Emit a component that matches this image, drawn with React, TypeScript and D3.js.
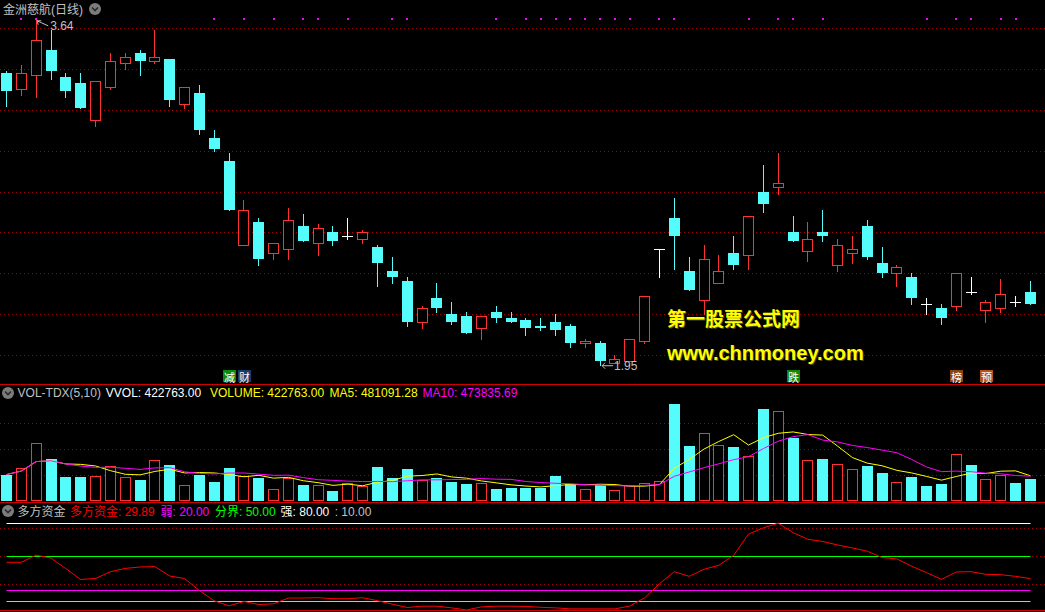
import React from 'react';
import * as d3 from 'd3';

// ---- data ----
const opens = [
  3.38, 3.30, 3.37, 3.49, 3.36, 3.33, 3.15, 3.31, 3.43, 3.48,
  3.44, 3.45, 3.23, 3.28, 3.06, 2.95, 2.54, 2.65, 2.50, 2.52,
  2.63, 2.55, 2.60, 2.58, 2.57, 2.53, 2.41, 2.36, 2.16, 2.28,
  2.20, 2.19, 2.13, 2.21, 2.18, 2.17, 2.14, 2.16, 2.14, 2.06,
  2.06, 1.96, 1.97, 2.07, 2.52, 2.67, 2.41, 2.27, 2.35, 2.50,
  2.49, 2.80, 2.82, 2.60, 2.51, 2.60, 2.44, 2.50, 2.63, 2.45,
  2.40, 2.38, 2.25, 2.23, 2.24, 2.31, 2.22, 2.23, 2.26, 2.31,
];
const closes = [
  3.29, 3.38, 3.54, 3.39, 3.29, 3.21, 3.34, 3.44, 3.46, 3.44,
  3.46, 3.25, 3.31, 3.10, 3.01, 2.71, 2.71, 2.47, 2.55, 2.66,
  2.56, 2.62, 2.56, 2.58, 2.60, 2.45, 2.38, 2.16, 2.23, 2.23,
  2.16, 2.11, 2.19, 2.18, 2.16, 2.13, 2.13, 2.12, 2.06, 2.07,
  1.97, 1.98, 2.08, 2.29, 2.52, 2.58, 2.32, 2.47, 2.41, 2.44,
  2.68, 2.74, 2.84, 2.56, 2.57, 2.58, 2.54, 2.52, 2.48, 2.40,
  2.43, 2.28, 2.25, 2.18, 2.40, 2.31, 2.26, 2.30, 2.26, 2.25,
];
const highs = [
  3.39, 3.42, 3.64, 3.59, 3.38, 3.38, 3.34, 3.48, 3.48, 3.49,
  3.59, 3.45, 3.31, 3.32, 3.10, 2.99, 2.76, 2.67, 2.55, 2.72,
  2.69, 2.64, 2.63, 2.67, 2.61, 2.54, 2.48, 2.38, 2.24, 2.35,
  2.26, 2.21, 2.19, 2.24, 2.21, 2.18, 2.18, 2.20, 2.15, 2.08,
  2.07, 2.00, 2.08, 2.29, 2.52, 2.77, 2.48, 2.54, 2.49, 2.58,
  2.68, 2.93, 2.99, 2.68, 2.65, 2.71, 2.57, 2.58, 2.66, 2.53,
  2.44, 2.40, 2.28, 2.25, 2.40, 2.38, 2.27, 2.37, 2.29, 2.36,
];
const lows = [
  3.22, 3.27, 3.26, 3.35, 3.26, 3.21, 3.12, 3.30, 3.40, 3.37,
  3.43, 3.22, 3.21, 3.08, 3.00, 2.71, 2.54, 2.44, 2.47, 2.47,
  2.56, 2.49, 2.54, 2.57, 2.55, 2.34, 2.35, 2.14, 2.13, 2.21,
  2.15, 2.11, 2.08, 2.16, 2.16, 2.10, 2.12, 2.10, 2.04, 2.04,
  1.95, 1.96, 1.97, 2.06, 2.38, 2.42, 2.32, 2.20, 2.35, 2.42,
  2.42, 2.70, 2.79, 2.56, 2.46, 2.56, 2.41, 2.45, 2.47, 2.38,
  2.34, 2.25, 2.20, 2.15, 2.22, 2.30, 2.16, 2.21, 2.24, 2.25,
];
const volumes = [
  509000, 643000, 1123000, 816000, 470000, 470000, 490000, 672000, 470000, 413000,
  797000, 701000, 317000, 509000, 374000, 643000, 490000, 451000, 240000, 451000,
  317000, 303000, 192000, 355000, 298000, 662000, 451000, 624000, 413000, 451000,
  374000, 336000, 355000, 230000, 259000, 259000, 250000, 480000, 336000, 240000,
  307000, 221000, 307000, 355000, 394000, 1872000, 1066000, 1306000, 1085000, 1046000,
  874000, 1776000, 1728000, 1219000, 797000, 816000, 720000, 624000, 682000, 547000,
  374000, 470000, 288000, 326000, 900000, 701000, 432000, 509000, 355000, 422763,
];
const fundValues = [
  44.5, 44.5, 50.9, 48.2, 38.8, 29.1, 30.0, 36.0, 39.0, 40.3,
  40.6, 32.2, 30.0, 19.1, 10.0, 5.5, 9.4, 6.7, 7.3, 12.5,
  12.5, 12.8, 11.9, 11.9, 12.8, 10.1, 7.0, 4.0, 5.2, 5.2,
  3.7, 1.8, 4.6, 5.2, 5.2, 5.0, 4.2, 3.7, 2.8, 2.8,
  2.8, 2.8, 5.3, 12.7, 25.3, 36.1, 31.9, 38.2, 41.8, 50.8,
  69.7, 75.3, 79.5, 71.0, 65.1, 63.1, 60.0, 57.3, 54.4, 48.7,
  47.5, 40.9, 35.2, 29.2, 35.8, 36.1, 33.7, 33.4, 31.9, 29.89,
];
const signalDots = [1, 2, 14, 16, 18, 20, 21, 23, 26, 27, 33, 35, 36, 37, 38, 39, 40, 41, 42, 44, 45, 50, 52, 53, 55, 62, 64, 65, 67, 68];
const tagIndex = [15, 16, 53, 64, 66];
const tagText = ['减', '财', '跌', '榜', '预'];
const priceTicks = [2.0, 2.2, 2.4, 2.6, 2.8, 3.0, 3.2, 3.4, 3.6];
const volTicks = [500000, 1000000, 1500000];
const fundTicks = [25, 50, 75];
const fundLevels = [80, 50, 20, 10];

const title = '金洲慈航(日线)';
const volHeader = [
  { t: 'VOL-TDX(5,10)', c: '#c0c0c0', x: 17.6 },
  { t: 'VVOL: 422763.00', c: '#ffffff', x: 105.8 },
  { t: 'VOLUME: 422763.00', c: '#ffff00', x: 210 },
  { t: 'MA5: 481091.28', c: '#ffff00', x: 329.6 },
  { t: 'MA10: 473835.69', c: '#ff00ff', x: 422.6 },
];
const fundHeader = [
  { t: '多方资金', c: '#c0c0c0', x: 17.6 },
  { t: '多方资金: 29.89', c: '#ff0000', x: 70 },
  { t: '弱: 20.00', c: '#ff00ff', x: 160.6 },
  { t: '分界: 50.00', c: '#00ff00', x: 215 },
  { t: '强: 80.00', c: '#ffffff', x: 280.6 },
  { t: ': 10.00', c: '#c0c0c0', x: 334.7 },
];

const CYAN = '#54fcfc';
const RED = '#ff3232';
const GRID = '#a00000';
const SEP = '#d00000';
const FONT = '"Liberation Sans", Arial, "Noto Sans CJK SC", sans-serif';
const tagColor: Record<string, string> = { '减': '#0a8a0a', '财': '#173c6a', '跌': '#0a8a0a', '榜': '#8a4414', '预': '#b8501a' };
const levelColor: Record<number, string> = { 80: '#ffffff', 50: '#00ff00', 20: '#ff00ff', 10: '#c0c0c0' };

function Icon({ cx, cy }: { cx: number; cy: number }) {
  return (
    <g>
      <circle cx={cx} cy={cy} r={6} fill="#7c7c7c" />
      <polyline points={`${cx - 3},${cy - 1.5} ${cx},${cy + 1.5} ${cx + 3},${cy - 1.5}`} fill="none" stroke="#2a2a2a" strokeWidth={1.6} />
    </g>
  );
}

export default function App() {
  React.useEffect(() => {
    document.body.style.margin = '0';
    document.body.style.background = '#000';
  }, []);

  const n = opens.length;
  const W = 1045;
  const x = d3.scaleLinear().domain([0, n - 1]).range([6.5, 1030.5]);
  const yP = d3.scaleLinear().domain([2.0, 3.6]).range([355, 28]);
  const yV = d3.scaleLinear().domain([0, 1500000]).range([501, 423]);
  const yF = d3.scaleLinear().domain([0, 80]).range([612, 522.6]);

  const ma = (k: number) => volumes.map((_, i) => d3.mean(volumes.slice(Math.max(0, i - k + 1), i + 1)) as number);
  const ma5 = ma(5);
  const ma10 = ma(10);
  const volLine = d3.line<number>().x((_, i) => x(i)).y((v) => yV(v));
  const fundLine = d3.line<number>().x((_, i) => x(i)).y((v) => yF(v));

  const isUp = (i: number) => closes[i] > opens[i] || (closes[i] === opens[i] && i > 0 && closes[i] > closes[i - 1]);

  const R = (v: number) => Math.round(v);

  const candles = opens.map((o, i) => {
    const c = closes[i], h = highs[i], l = lows[i];
    const left = R(x(i) - 5.5);
    const mid = left + 5.5;
    const yo = R(yP(o)), yc = R(yP(c)), yh = R(yP(h)), yl = R(yP(l));
    if (c > o) {
      return (
        <g key={i} stroke={RED} fill="#000" shapeRendering="crispEdges">
          {yh < yc && <line x1={mid} x2={mid} y1={yh} y2={yc} />}
          {yl > yo && <line x1={mid} x2={mid} y1={yo} y2={yl + 1} />}
          <rect x={left + 0.5} y={yc + 0.5} width={10} height={Math.max(1, yo - yc)} />
        </g>
      );
    }
    if (c < o) {
      return (
        <g key={i} shapeRendering="crispEdges">
          <line x1={mid} x2={mid} y1={yh} y2={yl + 1} stroke={CYAN} />
          <rect x={left} y={yo} width={11} height={Math.max(1, yc - yo)} fill={CYAN} />
        </g>
      );
    }
    return (
      <g key={i} stroke="#ffffff" shapeRendering="crispEdges">
        <line x1={mid} x2={mid} y1={yh} y2={yl + 1} />
        <line x1={left} x2={left + 11} y1={yo + 0.5} y2={yo + 0.5} />
      </g>
    );
  });

  const volBars = volumes.map((v, i) => {
    const left = R(x(i) - 5.5);
    const top = R(yV(v));
    const base = R(yV(0));
    return isUp(i) ? (
      <rect key={i} x={left + 0.5} y={top + 0.5} width={10} height={base - top - 1} fill="#000" stroke={RED} shapeRendering="crispEdges" />
    ) : (
      <rect key={i} x={left} y={top} width={11} height={base - top} fill={CYAN} shapeRendering="crispEdges" />
    );
  });

  const hiIdx = d3.maxIndex(highs);
  const loIdx = d3.minIndex(lows);
  const hx = x(hiIdx), hy = yP(highs[hiIdx]);
  const lx = x(loIdx), ly = yP(lows[loIdx]);

  return (
    <div style={{ position: 'absolute', left: 0, top: 0, width: W, height: 612, background: '#000' }}>
      <svg width={W} height={612} style={{ display: 'block' }} fontFamily={FONT}>
        <rect x={0} y={0} width={W} height={612} fill="#000" />

        {/* gridlines */}
        {priceTicks.map((p) => (
          <line key={'pg' + p} x1={0} x2={W} y1={R(yP(p)) + 0.5} y2={R(yP(p)) + 0.5} stroke={GRID} strokeDasharray="1,3" />
        ))}
        {volTicks.map((v) => (
          <line key={'vg' + v} x1={0} x2={W} y1={R(yV(v)) + 0.5} y2={R(yV(v)) + 0.5} stroke={GRID} strokeDasharray="1,3" />
        ))}
        {fundTicks.map((v) => (
          <line key={'fg' + v} x1={0} x2={W} y1={R(yF(v)) + 0.5} y2={R(yF(v)) + 0.5} stroke={GRID} strokeDasharray="1,3" />
        ))}

        {/* title */}
        <text x={3} y={9.5} dominantBaseline="central" fontSize={12} fill="#c0c0c0">{title}</text>
        <Icon cx={95} cy={9} />

        {/* signal dots */}
        {signalDots.map((i) => (
          <rect key={'d' + i} x={R(x(i)) - 1} y={18} width={2} height={2} fill="#ff00ff" />
        ))}

        {/* candles */}
        {candles}

        {/* high / low labels */}
        <g stroke="#c0c0c0" fill="none">
          <line x1={hx + 1} y1={hy + 1} x2={hx + 12} y2={hy + 6} />
          <line x1={hx + 1} y1={hy + 1} x2={hx + 5} y2={hy + 1} />
          <line x1={hx + 1} y1={hy + 1} x2={hx + 2} y2={hy + 5} />
          <line x1={lx + 2} y1={ly + 0.5} x2={lx + 13} y2={ly + 0.5} />
          <line x1={lx + 2} y1={ly + 0.5} x2={lx + 5} y2={ly - 2.5} />
          <line x1={lx + 2} y1={ly + 0.5} x2={lx + 5} y2={ly + 3.5} />
        </g>
        <text x={hx + 14} y={hy + 6} dominantBaseline="central" fontSize={12} fill="#c0c0c0">{highs[hiIdx].toFixed(2)}</text>
        <text x={lx + 14} y={ly + 1} dominantBaseline="central" fontSize={12} fill="#c0c0c0">{lows[loIdx].toFixed(2)}</text>

        {/* watermark */}
        <g fontWeight="bold">
          <text x={668} y={327} fontSize={19} fill="#4a4a00" fontFamily='"Noto Sans CJK SC", sans-serif'>第一股票公式网</text>
          <text x={667} y={326} fontSize={19} fill="#ffff00" fontFamily='"Noto Sans CJK SC", sans-serif'>第一股票公式网</text>
          <text x={668} y={361} fontSize={20} fill="#4a4a00" fontFamily='"Liberation Sans", Arial, sans-serif'>www.chnmoney.com</text>
          <text x={667} y={360} fontSize={20} fill="#ffff00" fontFamily='"Liberation Sans", Arial, sans-serif'>www.chnmoney.com</text>
        </g>

        {/* event tags */}
        {tagIndex.map((i, k) => (
          <g key={'t' + k}>
            <rect x={R(x(i)) - 6} y={370} width={13} height={12} fill={tagColor[tagText[k]]} />
            <text x={R(x(i)) + 0.5} y={376.5} textAnchor="middle" dominantBaseline="central" fontSize={11} fill="#ffffff" fontFamily='"Noto Sans CJK SC", sans-serif'>{tagText[k]}</text>
          </g>
        ))}

        {/* separator */}
        <line x1={0} x2={W} y1={384.5} y2={384.5} stroke={SEP} />

        {/* volume panel */}
        <Icon cx={8} cy={393} />
        {volHeader.map((h, k) => (
          <text key={'vh' + k} x={h.x} y={393} dominantBaseline="central" fontSize={12} fill={h.c}>{h.t}</text>
        ))}
        {volBars}
        <path d={volLine(ma5) || ''} fill="none" stroke="#ffff00" strokeWidth={1} />
        <path d={volLine(ma10) || ''} fill="none" stroke="#ff00ff" strokeWidth={1} />
        <line x1={0} x2={W} y1={502.5} y2={502.5} stroke={SEP} />

        {/* fund panel */}
        <Icon cx={8} cy={511} />
        {fundHeader.map((h, k) => (
          <text key={'fh' + k} x={h.x} y={511.5} dominantBaseline="central" fontSize={12} fill={h.c}>{h.t}</text>
        ))}
        {fundLevels.map((v) => (
          <line key={'fl' + v} x1={x(0)} x2={x(n - 1)} y1={R(yF(v)) + 0.5} y2={R(yF(v)) + 0.5} stroke={levelColor[v]} />
        ))}
        <path d={fundLine(fundValues) || ''} fill="none" stroke="#ff0000" strokeWidth={1} />
        <line x1={0} x2={W} y1={610.5} y2={610.5} stroke={SEP} />
      </svg>
    </div>
  );
}
